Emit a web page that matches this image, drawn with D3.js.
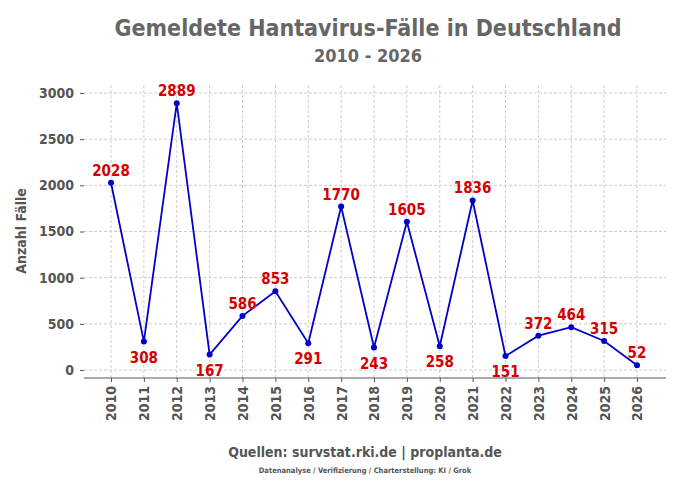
<!DOCTYPE html>
<html><head><meta charset="utf-8">
<script src="https://cdn.jsdelivr.net/npm/d3@7"></script>
<style>
body{margin:0;background:#fff}
text{font-family:"DejaVu Sans Condensed","DejaVu Sans",sans-serif;font-stretch:condensed;font-weight:bold}
</style></head>
<body><div id="chart"></div>
<script>
const years = ["2010","2011","2012","2013","2014","2015","2016","2017","2018","2019","2020","2021","2022","2023","2024","2025","2026"];
const cases = [2028,308,2889,167,586,853,291,1770,243,1605,258,1836,151,372,464,315,52];
const below = ["2011","2013","2016","2018","2020","2022"];
const yTicks = [0,500,1000,1500,2000,2500,3000];

const W=680,H=488, m={top:93,right:14,bottom:110,left:84};
const svg=d3.select("#chart").append("svg").attr("width",W).attr("height",H);
const x=d3.scalePoint().domain(years).range([111,637]);
const y=d3.scaleLinear().domain([0,3000]).range([370,93]);

// grid
svg.append("g").selectAll("line").data(yTicks).join("line")
  .attr("x1",m.left).attr("x2",W-m.right).attr("y1",d=>y(d)).attr("y2",d=>y(d))
  .attr("stroke","#ccc").attr("stroke-dasharray","3,2");
svg.append("g").selectAll("line").data(years).join("line")
  .attr("x1",d=>x(d)).attr("x2",d=>x(d)).attr("y1",85).attr("y2",378)
  .attr("stroke","#ccc").attr("stroke-dasharray","3,2");

// axes
const ya=svg.append("g").attr("transform",`translate(${m.left},0)`)
  .call(d3.axisLeft(y).tickValues(yTicks).tickFormat(d3.format("d")).tickSize(4).tickPadding(6));
ya.select(".domain").remove();
ya.selectAll("text").attr("font-size",14).attr("fill","#555");
ya.selectAll("line").attr("stroke","#555");
const xa=svg.append("g").attr("transform","translate(0,378)")
  .call(d3.axisBottom(x).tickSize(4).tickSizeOuter(0));
xa.select(".domain").attr("d",`M${m.left},0H${W-m.right}`).attr("stroke","#555");
xa.selectAll("line").attr("stroke","#555");
xa.selectAll("text").attr("font-size",14).attr("fill","#555")
  .attr("transform","rotate(-90)").attr("text-anchor","end").attr("dx","-8").attr("dy","0.35em").attr("x",0).attr("y",0);

// line
svg.append("path").datum(years.map((d,i)=>[d,cases[i]]))
  .attr("fill","none").attr("stroke","#0000cc").attr("stroke-width",1.8)
  .attr("d",d3.line().x(d=>x(d[0])).y(d=>y(d[1])));
svg.append("g").selectAll("circle").data(years).join("circle")
  .attr("cx",d=>x(d)).attr("cy",(d,i)=>y(cases[i])).attr("r",3).attr("fill","#0000cc");
svg.append("g").selectAll("text").data(years).join("text")
  .attr("x",d=>x(d)).attr("y",(d,i)=>below.includes(d)?y(cases[i])+21:y(cases[i])-7)
  .attr("text-anchor","middle").attr("font-size",15).attr("fill","#d40000")
  .text((d,i)=>cases[i]);

// titles
svg.append("text").attr("x",W/2+28).attr("y",36).attr("text-anchor","middle")
  .attr("font-size",23).attr("fill","#666").text("Gemeldete Hantavirus-Fälle in Deutschland");
svg.append("text").attr("x",W/2+28).attr("y",62).attr("text-anchor","middle")
  .attr("font-size",18).attr("fill","#666").text("2010 - 2026");
svg.append("text").attr("transform","translate(26,231) rotate(-90)").attr("text-anchor","middle")
  .attr("font-size",14).attr("fill","#555").text("Anzahl Fälle");
svg.append("text").attr("x",365).attr("y",457).attr("text-anchor","middle")
  .attr("font-size",14).attr("fill","#555").text("Quellen: survstat.rki.de  |  proplanta.de");
svg.append("text").attr("x",365).attr("y",473).attr("text-anchor","middle")
  .attr("font-size",7.5).attr("fill","#555").text("Datenanalyse /  Verifizierung / Charterstellung: KI / Grok");
</script></body></html>
